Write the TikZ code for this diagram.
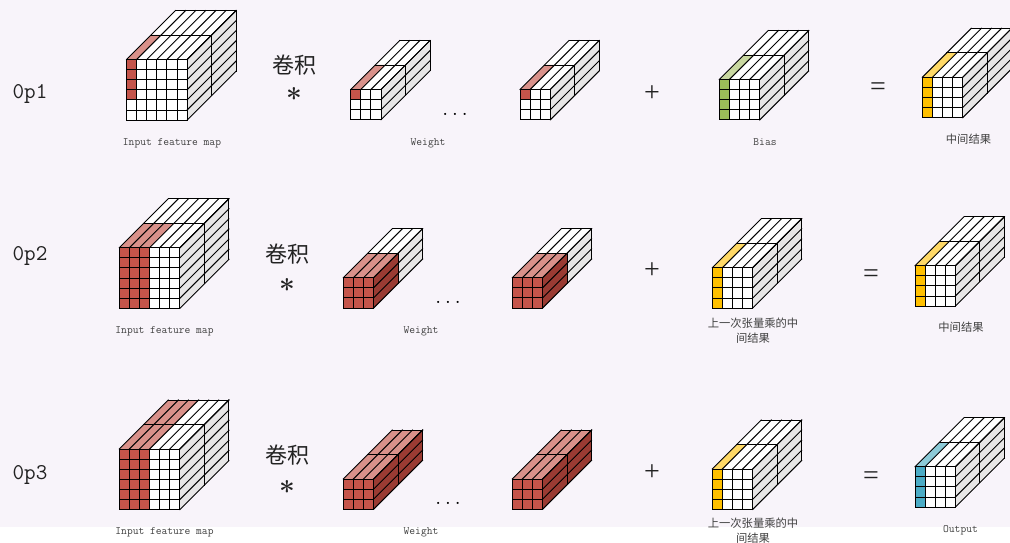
\documentclass[tikz,border=0pt]{standalone}
\usepackage{fontspec}
\newfontfamily\cjk{Noto Sans CJK SC}
\newfontfamily\symf{Liberation Serif}
\definecolor{bgc}{HTML}{F8F4FA}
\definecolor{sidec}{HTML}{E7E6E6}
\definecolor{linec}{HTML}{000000}
\definecolor{redf}{HTML}{C4554B}
\definecolor{redt}{HTML}{D9918A}
\definecolor{reds}{HTML}{9A3B33}
\definecolor{grnf}{HTML}{9BBB59}
\definecolor{grnt}{HTML}{C9D8A0}
\definecolor{yelf}{HTML}{FFC000}
\definecolor{yelt}{HTML}{FFD966}
\definecolor{teaf}{HTML}{4BACC6}
\definecolor{teat}{HTML}{8CCBD8}
\definecolor{txtc}{HTML}{404040}
\definecolor{symc}{HTML}{222222}
\pgfkeys{/cub/.is family,/cub/.cd,
  cols/.store in=\cbcols, rows/.store in=\cbrows,
  fcols/.store in=\cbfc, frows/.store in=\cbfr,
  fcol/.store in=\cbfcol, tcol/.store in=\cbtcol,
  tlay/.store in=\cbtl, slay/.store in=\cbsl,
  dep/.store in=\cbd}
\newcommand\cuboid[3][]{%
  \pgfkeys{/cub/.cd,cols=6,rows=6,fcols=1,frows=6,fcol=redf,tcol=redt,tlay=1,slay=0,dep=24.5,#1}%
  \begin{scope}[shift={(#2,#3)}]
    \pgfmathsetmacro\W{\cbcols*10.1}
    \pgfmathsetmacro\H{\cbrows*10.1}
    \pgfmathsetmacro\TW{\cbfc*10.1}
    \pgfmathsetmacro\FH{\cbfr*10.1}
    \pgfmathsetmacro\D{\cbd}
    \pgfmathsetmacro\DD{2*\cbd}
    \fill[white] (0,0) -- (\W,0) -- (\W+\DD,-\DD) -- (\DD,-\DD) -- cycle;
    \fill[sidec] (\W,0) -- (\W+\DD,-\DD) -- (\W+\DD,\H-\DD) -- (\W,\H) -- cycle;
    \fill[white] (0,0) rectangle (\W,\H);
    \fill[\cbfcol] (0,0) rectangle (\TW,\FH);
    \ifnum\cbtl>0
      \fill[\cbtcol] (0,0) -- (\TW,0) -- (\TW+\cbtl*\D,-\cbtl*\D) -- (\cbtl*\D,-\cbtl*\D) -- cycle;
    \fi
    \ifnum\cbsl>0
      \fill[reds] (\W,0) -- (\W+\cbsl*\D,-\cbsl*\D) -- (\W+\cbsl*\D,\H-\cbsl*\D) -- (\W,\H) -- cycle;
    \fi
    \begin{scope}[cubeline]
      \foreach \i in {0,...,\cbcols}{
        \draw (\i*10.1,0) -- (\i*10.1,\H);
        \draw (\i*10.1,0) -- (\i*10.1+\DD,-\DD);
      }
      \foreach \j in {0,...,\cbrows}{
        \draw (0,\j*10.1) -- (\W,\j*10.1);
        \draw (\W,\j*10.1) -- (\W+\DD,\j*10.1-\DD);
      }
      \draw (\DD,-\DD) -- (\W+\DD,-\DD) -- (\W+\DD,\H-\DD);
      \draw (\D,-\D) -- (\W+\D,-\D) -- (\W+\D,\H-\D);
    \end{scope}
  \end{scope}}
\tikzset{
  cubeline/.style={draw=linec,line width=0.95pt,line cap=rect},
  tinylabel/.style={text=txtc,inner sep=0pt,font=\ttfamily\fontsize{11.2}{13}\selectfont},
  cjklabel/.style={text=txtc,inner sep=0pt,align=center,font=\cjk\fontsize{11.3}{15}\selectfont},
  oplabel/.style={text=symc,inner sep=0pt,font=\ttfamily\fontsize{22.5}{24}\selectfont},
  convlabel/.style={text=symc,inner sep=0pt,font=\cjk\fontsize{22}{26}\selectfont},
  starlabel/.style={text=symc,inner sep=0pt,font=\bfseries\fontsize{28}{32}\selectfont},
  symlabel/.style={text=symc,inner sep=0pt,font=\symf\fontsize{28}{30}\selectfont},
  dotslabel/.style={text=black,inner sep=0pt,anchor=base,font=\ttfamily\fontsize{19}{20}\selectfont}
}
\begin{document}
\begin{tikzpicture}[x=1pt,y=-1pt]
\useasboundingbox (0,0) rectangle (1010,543);
\clip (0,0) rectangle (1010,543);
\fill[white] (0,0) rectangle (1010,543);
\fill[bgc] (0,0) rectangle (1010,527);
% Row 1
\node[oplabel] (op1) at (30,94) {0p1};
\cuboid[frows=4]{126.5}{59.5}
\node[tinylabel] (l11) at (172,143) {Input feature map};
\node[convlabel] (c1) at (294,65.5) {卷积};
\node[starlabel] (s1) at (294,98) {*};
\cuboid[cols=3,rows=3,frows=1]{350.7}{89.5}
\cuboid[cols=3,rows=3,frows=1]{520}{89.5}
\node[dotslabel] (d1) at (455,115) {...};
\node[tinylabel] (l12) at (428,143) {Weight};
\node[symlabel] (p1) at (652,94) {+};
\cuboid[cols=4,rows=4,frows=4,fcol=grnf,tcol=grnt]{719.3}{79.5}
\node[tinylabel] (l13) at (765,142.5) {Bias};
\node[symlabel] (e1) at (878,89) {=};
\cuboid[cols=4,rows=4,frows=4,fcol=yelf,tcol=yelt]{922.3}{77.3}
\node[cjklabel] (l14) at (968.5,139) {中间结果};
% Row 2
\node[oplabel] (op2) at (30,256) {0p2};
\cuboid[fcols=3]{119.3}{247.7}
\node[tinylabel] (l21) at (164.5,331) {Input feature map};
\node[convlabel] (c2) at (287,254.5) {卷积};
\node[starlabel] (s2) at (287,289) {*};
\cuboid[cols=3,rows=3,fcols=3,frows=3,slay=1]{343.3}{277.7}
\cuboid[cols=3,rows=3,fcols=3,frows=3,slay=1]{512.3}{277.7}
\node[dotslabel] (d2) at (448,303) {...};
\node[tinylabel] (l22) at (421,331) {Weight};
\node[symlabel] (p2) at (652,271) {+};
\cuboid[cols=4,rows=4,frows=4,fcol=yelf,tcol=yelt]{712.3}{267.7}
\node[cjklabel] (l23) at (753,330.5) {上一次张量乘的中\\间结果};
\node[symlabel] (e2) at (871,276) {=};
\cuboid[cols=4,rows=4,frows=4,fcol=yelf,tcol=yelt]{915}{265.7}
\node[cjklabel] (l24) at (961,327) {中间结果};
% Row 3
\node[oplabel] (op3) at (30,475) {0p3};
\cuboid[fcols=3,tlay=2]{119.3}{449}
\node[tinylabel] (l31) at (164.5,532) {Input feature map};
\node[convlabel] (c3) at (287,455.5) {卷积};
\node[starlabel] (s3) at (287,491) {*};
\cuboid[cols=3,rows=3,fcols=3,frows=3,tlay=2,slay=2]{343.3}{479}
\cuboid[cols=3,rows=3,fcols=3,frows=3,tlay=2,slay=2]{512.3}{479}
\node[dotslabel] (d3) at (448,504) {...};
\node[tinylabel] (l32) at (421,532) {Weight};
\node[symlabel] (p3) at (652,473) {+};
\cuboid[cols=4,rows=4,frows=4,fcol=yelf,tcol=yelt]{712.3}{469}
\node[cjklabel] (l33) at (753,531) {上一次张量乘的中\\间结果};
\node[symlabel] (e3) at (871,478) {=};
\cuboid[cols=4,rows=4,frows=4,fcol=teaf,tcol=teat]{915}{466.7}
\node[tinylabel] (l34) at (960.5,530) {Output};
\end{tikzpicture}
\end{document}
